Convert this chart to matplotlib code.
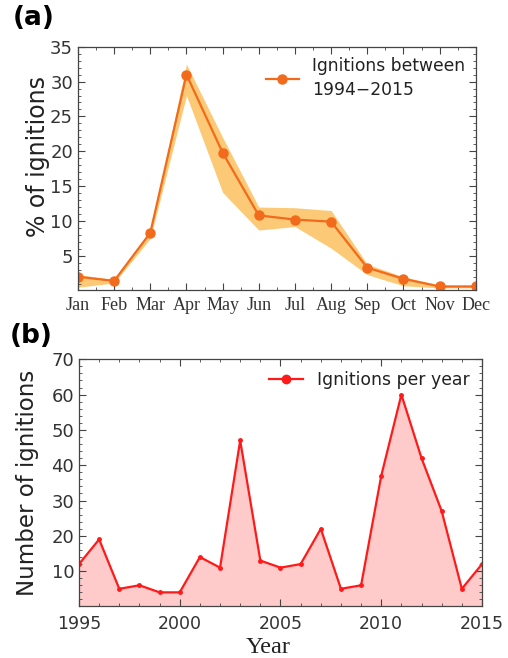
import numpy as np
import matplotlib.pyplot as plt
from matplotlib.ticker import MultipleLocator

# panel (a): monthly share of ignitions
months = ['Jan', 'Feb', 'Mar', 'Apr', 'May', 'Jun', 'Jul', 'Aug', 'Sep', 'Oct', 'Nov', 'Dec']
pct_mean = [2.0, 1.4, 8.3, 31.0, 19.8, 10.8, 10.2, 9.9, 3.3, 1.7, 0.6, 0.6]
pct_low = [0.5, 1.1, 7.5, 28.0, 14.1, 8.7, 9.2, 6.1, 2.3, 0.7, 0.4, 0.4]
pct_high = [2.3, 1.6, 8.6, 32.5, 22.0, 12.0, 11.9, 11.5, 3.8, 2.0, 0.8, 0.8]

# panel (b): ignitions per year
years = list(range(1995, 2016))
counts = [12, 19, 5, 6, 4, 4, 14, 11, 47, 13, 11, 12, 22, 5, 6, 37, 60, 42, 27, 5, 12]

fig = plt.figure(figsize=(5.08, 6.58), dpi=100, facecolor='white')
ax1 = fig.add_axes([0.1535, 0.5593, 0.783, 0.3697])
ax2 = fig.add_axes([0.1555, 0.0783, 0.7933, 0.3757])

tick_col = '#333333'

# ---- (a)
x = np.arange(1, 13)
ax1.fill_between(x, pct_low, pct_high, color='#FCC468', alpha=0.9, lw=0)
ax1.plot(x, pct_mean, '-o', color='#F26A1B', lw=1.6, ms=6.5, label='Ignitions between\n1994\u22122015')
ax1.set_xlim(1, 12)
ax1.set_ylim(0.1, 35)
ax1.set_xticks(x)
ax1.set_xticklabels(months, family='Liberation Serif', fontsize=13)
ax1.xaxis.set_minor_locator(MultipleLocator(0.5))
ax1.set_yticks([5, 10, 15, 20, 25, 30, 35])
ax1.yaxis.set_minor_locator(MultipleLocator(1))
ax1.set_ylabel('% of ignitions', fontsize=17, color='#222222')
ax1.yaxis.set_label_coords(-0.07, 0.55)
leg1 = ax1.legend(loc='upper right', frameon=False, fontsize=12.3, handlelength=1.9,
                  borderaxespad=0.2, labelcolor='#222222')
for t in leg1.get_texts():
    t.set_linespacing(1.45)

# ---- (b)
ax2.fill_between(years, counts, 0, color='#FFCACA', lw=0)
ax2.plot(years, counts, '-o', color='#FF1A1A', lw=1.6, ms=2.5, label='Ignitions per year')
ax2.set_xlim(1995, 2015)
ax2.set_ylim(0, 70)
ax2.set_xticks([1995, 2000, 2005, 2010, 2015])
ax2.xaxis.set_minor_locator(MultipleLocator(1))
ax2.set_yticks([10, 20, 30, 40, 50, 60, 70])
ax2.yaxis.set_minor_locator(MultipleLocator(2))
ax2.set_ylabel('Number of ignitions', fontsize=16.5, color='#222222', labelpad=9)
ax2.set_xlabel('Year', family='Liberation Serif', fontsize=17.5, color='#222222')
ax2.xaxis.set_label_coords(0.47, -0.125)
leg = ax2.legend(loc='upper right', frameon=False, fontsize=12.4, handlelength=2.0,
                 borderaxespad=0.3, labelcolor='#222222')
for h in leg.legend_handles:
    h.set_markersize(6)

for ax in (ax1, ax2):
    ax.tick_params(which='both', direction='in', top=True, right=True, colors='#444444',
                   labelcolor=tick_col)
    ax.tick_params(which='major', length=5, width=0.8, labelsize=13)
    ax.tick_params(which='minor', length=2.5, width=0.6)
    for s in ax.spines.values():
        s.set_color('#444444')
        s.set_linewidth(0.9)

ax1.tick_params(axis='x', labelsize=13, pad=5)
ax2.tick_params(axis='x', labelsize=12.5, pad=6)

fig.text(0.025, 0.972, '(a)', fontsize=19, fontweight='bold', va='center', ha='left')
fig.text(0.02, 0.49, '(b)', fontsize=19, fontweight='bold', va='center', ha='left')

fig.savefig('out.png', dpi=100, facecolor='white')
